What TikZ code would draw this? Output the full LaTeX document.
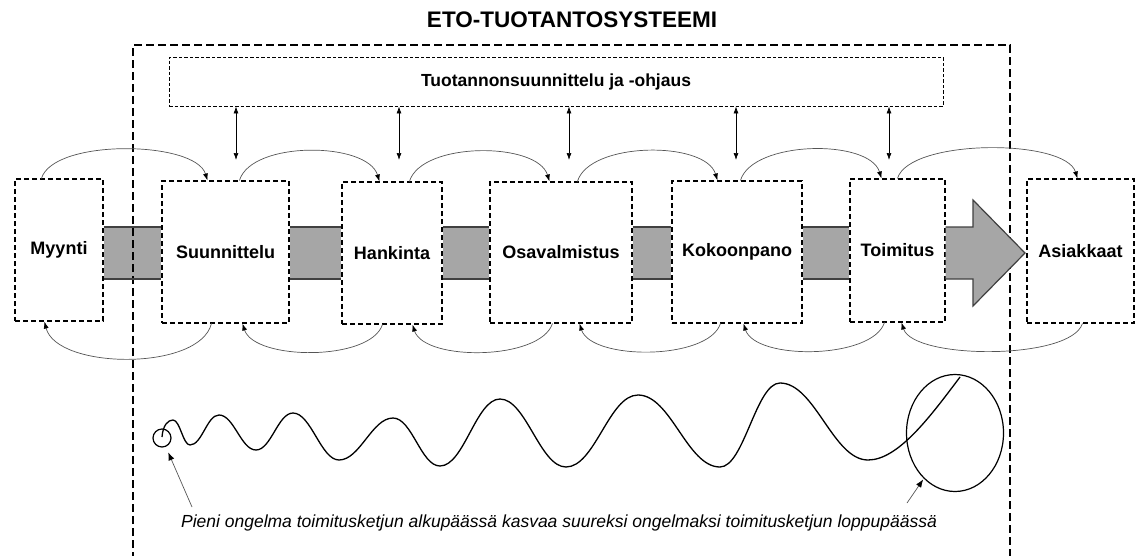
\documentclass[tikz,border=0pt]{standalone}
\usepackage{fontspec}
\setmainfont{Liberation Sans}
\usetikzlibrary{arrows.meta,shapes.geometric,backgrounds}
\definecolor{flowgray}{HTML}{A6A6A6}
\definecolor{edgegray}{HTML}{404040}
\definecolor{linegray}{HTML}{555555}

\begin{document}
\begin{tikzpicture}[x=1pt,y=-1pt,
  stage/.style={draw,dash pattern=on 5pt off 3pt,line width=1.1pt,fill=white,
    inner sep=0pt,font=\fontsize{18}{21}\selectfont\bfseries},
  planbox/.style={draw,dash pattern=on 3.5pt off 2pt,line width=0.9pt,
    inner sep=0pt,font=\fontsize{17.5}{21}\selectfont\bfseries},
  frameline/.style={dash pattern=on 8pt off 4pt,line width=1.9pt},
  block/.style={fill=flowgray},
  blockedge/.style={draw=edgegray,line width=1.2pt},
  flowarc/.style={draw=linegray,line width=0.7pt,-{Latex[length=7pt,width=5pt,color=black]}},
  ctrlarrow/.style={draw=black,line width=0.7pt,{Latex[length=7pt,width=5pt]}-{Latex[length=7pt,width=5pt]}},
  wave/.style={draw=black,line width=1.3pt},
  notearrow/.style={draw=linegray,line width=0.7pt,-{Latex[length=8pt,width=6pt,color=black]}},
  note/.style={font=\fontsize{17.5}{21}\selectfont\itshape,inner sep=0pt}
]
\useasboundingbox (0,0) rectangle (1135,555);

% title and system boundary
\node[font=\fontsize{22.5}{27}\selectfont\bfseries] (title) at (572,20) {ETO-TUOTANTOSYSTEEMI};
\draw[frameline] (133,560) -- (133,45) -- (1010,45) -- (1010,560);

% production planning and control
\node[planbox,minimum width=774pt,minimum height=49pt] (ctrl) at (556,81.5) {Tuotannonsuunnittelu ja -ohjaus};

% process stages
\node[stage,minimum width=88pt,minimum height=142pt]  (myynti) at (59,250)    {Myynti};
\node[stage,minimum width=127pt,minimum height=142pt] (suun)   at (225.5,252) {Suunnittelu};
\node[stage,minimum width=100pt,minimum height=142pt] (hank)   at (392,253)   {Hankinta};
\node[stage,minimum width=142pt,minimum height=141pt] (osav)   at (561,252.5) {Osavalmistus};
\node[stage,minimum width=130pt,minimum height=142pt] (koko)   at (737,252)   {Kokoonpano};
\node[stage,minimum width=95pt,minimum height=143pt]  (toim)   at (897.5,250.5) {Toimitus};
\node[stage,minimum width=107pt,minimum height=144pt] (asia)   at (1080.5,251) {Asiakkaat};

% material flow between the stages
\newcommand\flowblock[2]{%
  \begin{scope}[on background layer]
    \path[block] (#1.east |- 0,227) rectangle (#2.west |- 0,279);
  \end{scope}
  \draw[blockedge] (#1.east |- 0,227) -- (#2.west |- 0,227)
                   (#1.east |- 0,279) -- (#2.west |- 0,279);}
\flowblock{myynti}{suun}
\flowblock{suun}{hank}
\flowblock{hank}{osav}
\flowblock{osav}{koko}
\flowblock{koko}{toim}

% delivery arrow to the customers
\coordinate (tip) at (1025,253);
\filldraw[fill=flowgray,draw=edgegray,line width=1.2pt]
  (toim.east |- 0,227) -- (973,227) -- (973,200) -- (tip) -- (973,306) -- (973,279) -- (toim.east |- 0,279);

% links from planning and control to the stages
\coordinate (k1) at (236,160);
\coordinate (k2) at (399,160);
\coordinate (k3) at (569,160);
\coordinate (k4) at (736,160);
\coordinate (k5) at (889,160);
\foreach \k in {k1,k2,k3,k4,k5}
  \draw[ctrlarrow] (ctrl.south -| \k) -- (\k);

% forward information flow
\draw[flowarc] ([xshift=27pt]myynti.north west) .. controls +(12,-40) and +(-12,-40) .. ([xshift=46pt]suun.north west);
\draw[flowarc] ([xshift=78pt]suun.north west) .. controls +(12,-40) and +(-12,-40) .. ([xshift=38pt]hank.north west);
\draw[flowarc] ([xshift=68pt]hank.north west) .. controls +(12,-40) and +(-12,-40) .. ([xshift=60pt]osav.north west);
\draw[flowarc] ([xshift=88pt]osav.north west) .. controls +(12,-40) and +(-12,-40) .. ([xshift=46pt]koko.north west);
\draw[flowarc] ([xshift=69pt]koko.north west) .. controls +(12,-40) and +(-12,-40) .. ([xshift=32pt]toim.north west);
\draw[flowarc] ([xshift=48pt]toim.north west) .. controls +(12,-40) and +(-12,-40) .. ([xshift=51pt]asia.north west);

% feedback flow
\draw[flowarc] ([xshift=50pt]suun.south west) .. controls +(-12,48) and +(12,48) .. ([xshift=30pt]myynti.south west);
\draw[flowarc] ([xshift=41pt]hank.south west) .. controls +(-12,37) and +(12,37) .. ([xshift=81pt]suun.south west);
\draw[flowarc] ([xshift=63pt]osav.south west) .. controls +(-12,37) and +(12,37) .. ([xshift=71pt]hank.south west);
\draw[flowarc] ([xshift=49pt]koko.south west) .. controls +(-12,37) and +(12,37) .. ([xshift=90pt]osav.south west);
\draw[flowarc] ([xshift=35pt]toim.south west) .. controls +(-12,37) and +(12,37) .. ([xshift=72pt]koko.south west);
\draw[flowarc] ([xshift=56pt]asia.south west) .. controls +(-12,37) and +(12,37) .. ([xshift=52pt]toim.south west);

% growing disturbance along the chain
\node[draw,circle,line width=1.2pt,minimum size=18pt,inner sep=0pt] (c1) at (162,438) {};
\node[draw,ellipse,line width=1.2pt,minimum width=97pt,minimum height=117pt,inner sep=0pt] (c2) at (955,433) {};
\draw[wave] (162,437) .. controls +(1,-12) and +(-5,0) .. (173,420)
  .. controls +(7,0) and +(-7,0) .. (190,445)
  .. controls +(12,0) and +(-12,0) .. (219,415)
  .. controls +(15,0) and +(-15,0) .. (256,450)
  .. controls +(15,0) and +(-15,0) .. (293,413)
  .. controls +(18,0) and +(-18,0) .. (339,460)
  .. controls +(21,0) and +(-21,0) .. (393,418)
  .. controls +(19,0) and +(-19,0) .. (440,466)
  .. controls +(24,0) and +(-24,0) .. (500,399)
  .. controls +(26,0) and +(-26,0) .. (566,467)
  .. controls +(29,0) and +(-29,0) .. (638,395)
  .. controls +(33,0) and +(-33,0) .. (720,467)
  .. controls +(24,0) and +(-24,0) .. (780,383)
  .. controls +(35,0) and +(-35,0) .. (868,460)
  .. controls +(30,0) and +(-30,40) .. (960,377);

% explanation
\node[note,anchor=base] (nt) at (559,527) {Pieni ongelma toimitusketjun alkupäässä kasvaa suureksi ongelmaksi toimitusketjun loppupäässä};
\coordinate (n1) at (192,507);
\coordinate (n2) at (907,503);
\draw[notearrow,shorten >=6pt] (n1) -- (c1);
\draw[notearrow,shorten >=1pt] (n2) -- (c2);
\end{tikzpicture}
\end{document}
